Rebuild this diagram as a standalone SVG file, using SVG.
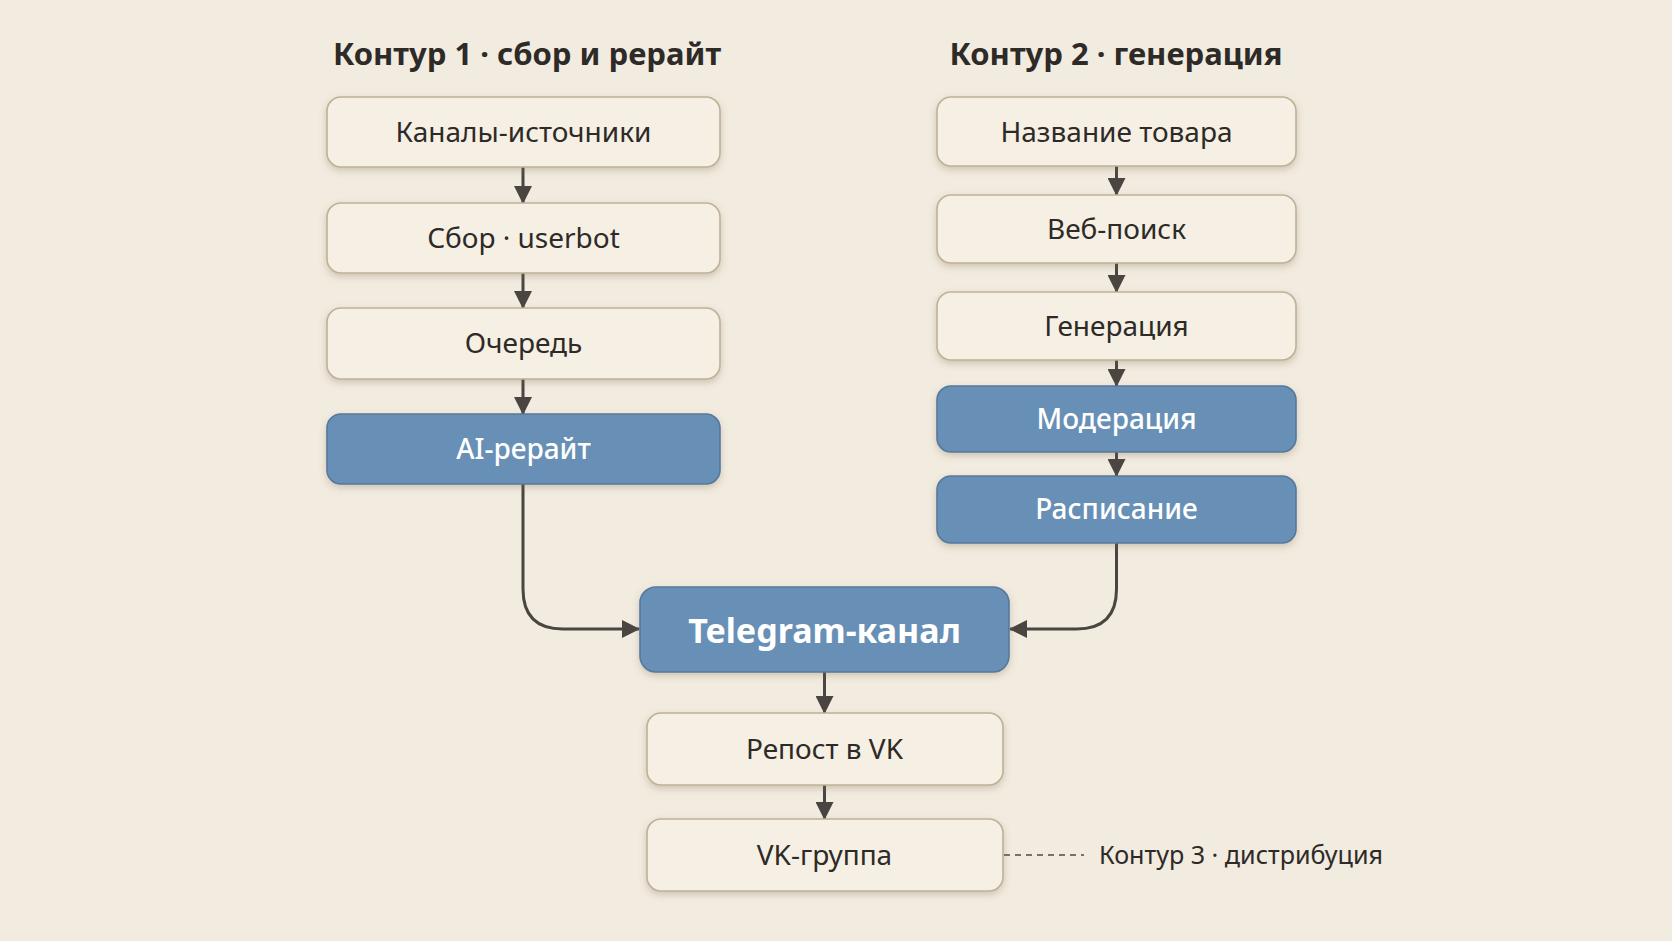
<svg xmlns="http://www.w3.org/2000/svg" width="1672" height="941" viewBox="0 0 1672 941">
<defs>
<filter id="sh" x="-10%" y="-20%" width="120%" height="150%">
<feDropShadow dx="0" dy="3" stdDeviation="3.5" flood-color="#7a6a50" flood-opacity="0.3"/>
</filter>
<marker id="ah" markerWidth="18" markerHeight="18" viewBox="0 0 18 18" refX="17" refY="9" orient="auto" markerUnits="userSpaceOnUse">
<path d="M0,0 L18,9 L0,18 Z" fill="#4a4541"/>
</marker>
</defs>
<style>
.lt{fill:#f6efe3;stroke:#bfb197;stroke-width:1.6}
.bl{fill:#6890b6;stroke:#55799d;stroke-width:1.6}
.t{font-family:"Noto Sans","Open Sans",sans-serif;font-size:28px;fill:#2d2a27;text-anchor:middle}
.tw{font-family:"Noto Sans","Open Sans",sans-serif;font-size:28px;font-weight:500;fill:#ffffff;text-anchor:middle}
.h{font-family:"Noto Sans","Open Sans",sans-serif;font-size:31px;font-weight:700;fill:#2d2a27;text-anchor:middle}
.c{fill:none;stroke:#4a4541;stroke-width:3}
</style>
<rect width="1672" height="941" fill="#f2ebdf"/>
<text class="h" x="527" y="65">Контур 1 · сбор и рерайт</text>
<text class="h" x="1116" y="65">Контур 2 · генерация</text>

<g id="connectors">
<line class="c" x1="523" y1="167" x2="523" y2="203" marker-end="url(#ah)"/>
<line class="c" x1="523" y1="273" x2="523" y2="308" marker-end="url(#ah)"/>
<line class="c" x1="523" y1="379" x2="523" y2="414" marker-end="url(#ah)"/>
<path class="c" d="M523,484 L523,589 Q523,629 563,629 L639,629" marker-end="url(#ah)"/>
<line class="c" x1="1116.5" y1="166" x2="1116.5" y2="195" marker-end="url(#ah)"/>
<line class="c" x1="1116.5" y1="263" x2="1116.5" y2="292" marker-end="url(#ah)"/>
<line class="c" x1="1116.5" y1="360" x2="1116.5" y2="386" marker-end="url(#ah)"/>
<line class="c" x1="1116.5" y1="452" x2="1116.5" y2="476" marker-end="url(#ah)"/>
<path class="c" d="M1116.5,543 L1116.5,589 Q1116.5,629 1076.5,629 L1010,629" marker-end="url(#ah)"/>
<line class="c" x1="824.5" y1="672" x2="824.5" y2="713" marker-end="url(#ah)"/>
<line class="c" x1="824.5" y1="785" x2="824.5" y2="819" marker-end="url(#ah)"/>
<line x1="1004" y1="855" x2="1084" y2="855" stroke="#7a7068" stroke-width="2" stroke-dasharray="6,5"/>
</g>

<g id="n-sources"><rect class="lt" filter="url(#sh)" x="327" y="97" width="393" height="70" rx="14"/><text class="t" x="523.5" y="142">Каналы-источники</text></g>
<g id="n-collect"><rect class="lt" filter="url(#sh)" x="327" y="203" width="393" height="70" rx="14"/><text class="t" x="523.5" y="248">Сбор · userbot</text></g>
<g id="n-queue"><rect class="lt" filter="url(#sh)" x="327" y="308" width="393" height="71" rx="14"/><text class="t" x="523.5" y="353">Очередь</text></g>
<g id="n-ai"><rect class="bl" filter="url(#sh)" x="327" y="414" width="393" height="70" rx="14"/><text class="tw" x="523.5" y="459">AI-рерайт</text></g>

<g id="n-product"><rect class="lt" filter="url(#sh)" x="937" y="97" width="359" height="69" rx="14"/><text class="t" x="1116.5" y="142">Название товара</text></g>
<g id="n-search"><rect class="lt" filter="url(#sh)" x="937" y="195" width="359" height="68" rx="14"/><text class="t" x="1116.5" y="239">Веб-поиск</text></g>
<g id="n-gen"><rect class="lt" filter="url(#sh)" x="937" y="292" width="359" height="68" rx="14"/><text class="t" x="1116.5" y="336">Генерация</text></g>
<g id="n-moder"><rect class="bl" filter="url(#sh)" x="937" y="386" width="359" height="66" rx="14"/><text class="tw" x="1116.5" y="429">Модерация</text></g>
<g id="n-sched"><rect class="bl" filter="url(#sh)" x="937" y="476" width="359" height="67" rx="14"/><text class="tw" x="1116.5" y="519">Расписание</text></g>

<g id="n-telegram"><rect class="bl" filter="url(#sh)" x="640" y="587" width="369" height="85" rx="16"/><text class="tw" x="824.5" y="643" style="font-size:34px;font-weight:700">Telegram-канал</text></g>
<g id="n-repost"><rect class="lt" filter="url(#sh)" x="647" y="713" width="356" height="72" rx="14"/><text class="t" x="824.5" y="759">Репост в VK</text></g>
<g id="n-vk"><rect class="lt" filter="url(#sh)" x="647" y="819" width="356" height="72" rx="14"/><text class="t" x="824.5" y="865">VK-группа</text></g>

<text x="1099" y="864" style="font-family:'Noto Sans','Open Sans',sans-serif;font-size:25px;fill:#2d2a27" textLength="284" lengthAdjust="spacingAndGlyphs">Контур 3 · дистрибуция</text>
</svg>
